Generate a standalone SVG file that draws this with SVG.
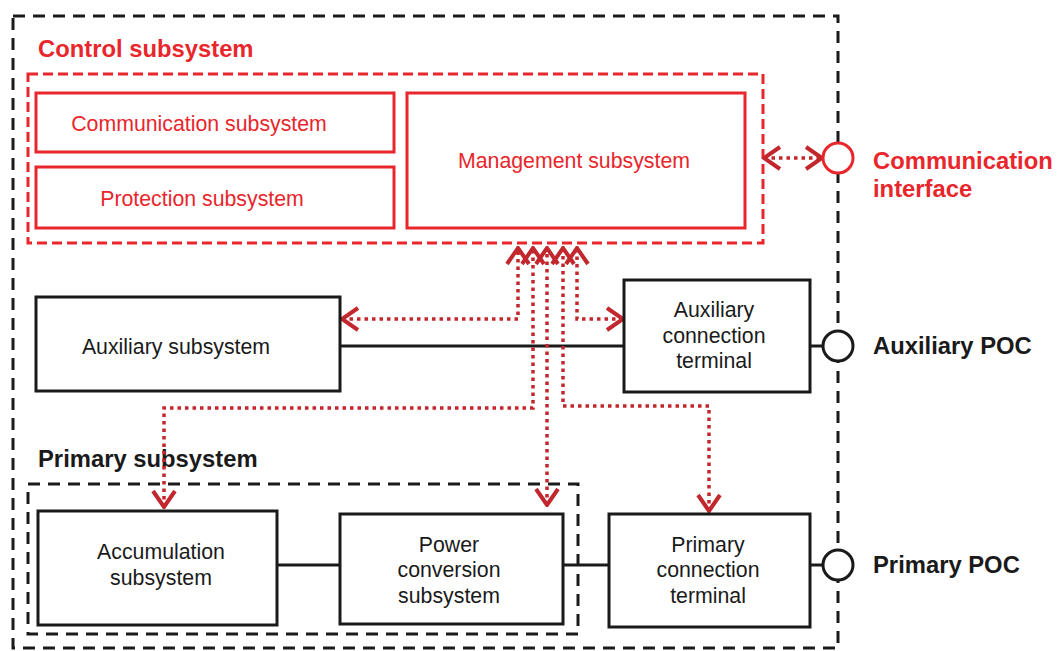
<svg xmlns="http://www.w3.org/2000/svg" width="1057" height="651" viewBox="0 0 1057 651">
<defs>
<style>
.box{fill:#fff;stroke:#1a1a1a;stroke-width:3}
.rbox{fill:#fff;stroke:#e8262c;stroke-width:3}
.bdash{fill:none;stroke:#1a1a1a;stroke-width:3;stroke-dasharray:12 8}
.rdash{fill:none;stroke:#e8262c;stroke-width:3;stroke-dasharray:10 5}
.wire{fill:none;stroke:#1a1a1a;stroke-width:3}
.dot{fill:none;stroke:#c1272d;stroke-width:3.5;stroke-dasharray:3.5 4;marker-start:url(#arr);marker-end:url(#arr)}
.t{font-family:"Liberation Sans",Arial,sans-serif;font-size:21.3px;fill:#1a1a1a;text-anchor:middle}
.rt{font-family:"Liberation Sans",Arial,sans-serif;font-size:21.3px;fill:#e8262c;text-anchor:middle}
.h{font-family:"Liberation Sans",Arial,sans-serif;font-size:23.8px;font-weight:bold;fill:#1a1a1a}
.rh{font-family:"Liberation Sans",Arial,sans-serif;font-size:23.8px;font-weight:bold;fill:#e8262c}
.poc{fill:#fff;stroke:#1a1a1a;stroke-width:3}
</style>
<marker id="arr" viewBox="0 0 20 26" refX="18" refY="13" markerWidth="20" markerHeight="26" markerUnits="userSpaceOnUse" orient="auto-start-reverse">
<path d="M2,2 L18,13 L2,24" fill="none" stroke="#c1272d" stroke-width="4" stroke-linejoin="miter" stroke-dasharray="none"/>
</marker>
</defs>
<rect width="1057" height="651" fill="#fff"/>

<g id="outer">
<rect class="bdash" x="13" y="16" width="825" height="632"/>
</g>

<g id="control-subsystem">
<rect class="rdash" x="28" y="74" width="735" height="169"/>
<text class="rh" x="38" y="57">Control subsystem</text>
</g>
<g id="communication-subsystem">
<rect class="rbox" x="36" y="93" width="358" height="59"/>
<text class="rt" x="199" y="131">Communication subsystem</text>
</g>
<g id="protection-subsystem">
<rect class="rbox" x="36" y="167" width="358" height="61"/>
<text class="rt" x="202" y="206">Protection subsystem</text>
</g>
<g id="management-subsystem">
<rect class="rbox" x="407" y="93" width="338" height="135"/>
<text class="rt" x="574" y="168">Management subsystem</text>
</g>

<g id="primary-subsystem">
<rect class="bdash" x="28" y="484" width="550" height="150"/>
<text class="h" x="38" y="467">Primary subsystem</text>
</g>

<g id="connectors">
<path class="wire" d="M340,346 L624,346"/>
<path class="wire" d="M810,346 L823,346"/>
<path class="wire" d="M277,565 L340,565"/>
<path class="wire" d="M563,565 L609,565"/>
<path class="wire" d="M810,565 L823,565"/>
<path class="dot" d="M342,319 L518,319 L518,248"/>
<path class="dot" d="M164,507 L164,408 L533,408 L533,248"/>
<path class="dot" d="M547,505 L547,248"/>
<path class="dot" d="M709,511 L709,406 L563,406 L563,248"/>
<path class="dot" d="M623,319 L577,319 L577,248"/>
<path class="dot" d="M764,158 L822,158"/>
</g>

<g id="auxiliary-subsystem">
<rect class="box" x="36" y="297" width="304" height="94"/>
<text class="t" x="176" y="354">Auxiliary subsystem</text>
</g>
<g id="auxiliary-connection-terminal">
<rect class="box" x="624" y="280" width="186" height="112"/>
<text class="t" x="714" y="317">Auxiliary</text>
<text class="t" x="714" y="343">connection</text>
<text class="t" x="714" y="368">terminal</text>
</g>
<g id="accumulation-subsystem">
<rect class="box" x="38" y="511" width="239" height="114"/>
<text class="t" x="161" y="559">Accumulation</text>
<text class="t" x="161" y="585">subsystem</text>
</g>
<g id="power-conversion-subsystem">
<rect class="box" x="340" y="514" width="223" height="110"/>
<text class="t" x="449" y="552">Power</text>
<text class="t" x="449" y="577">conversion</text>
<text class="t" x="449" y="603">subsystem</text>
</g>
<g id="primary-connection-terminal">
<rect class="box" x="609" y="514" width="201" height="113"/>
<text class="t" x="708" y="552">Primary</text>
<text class="t" x="708" y="577">connection</text>
<text class="t" x="708" y="603">terminal</text>
</g>

<g id="communication-interface">
<circle cx="838" cy="158" r="15" fill="#fff" stroke="#e8262c" stroke-width="3"/>
<text class="rh" x="873" y="169">Communication</text>
<text class="rh" x="873" y="197">interface</text>
</g>
<g id="auxiliary-poc">
<circle class="poc" cx="838" cy="346" r="15"/>
<text class="h" x="873" y="354">Auxiliary POC</text>
</g>
<g id="primary-poc">
<circle class="poc" cx="838" cy="565" r="15"/>
<text class="h" x="873" y="573">Primary POC</text>
</g>
</svg>
